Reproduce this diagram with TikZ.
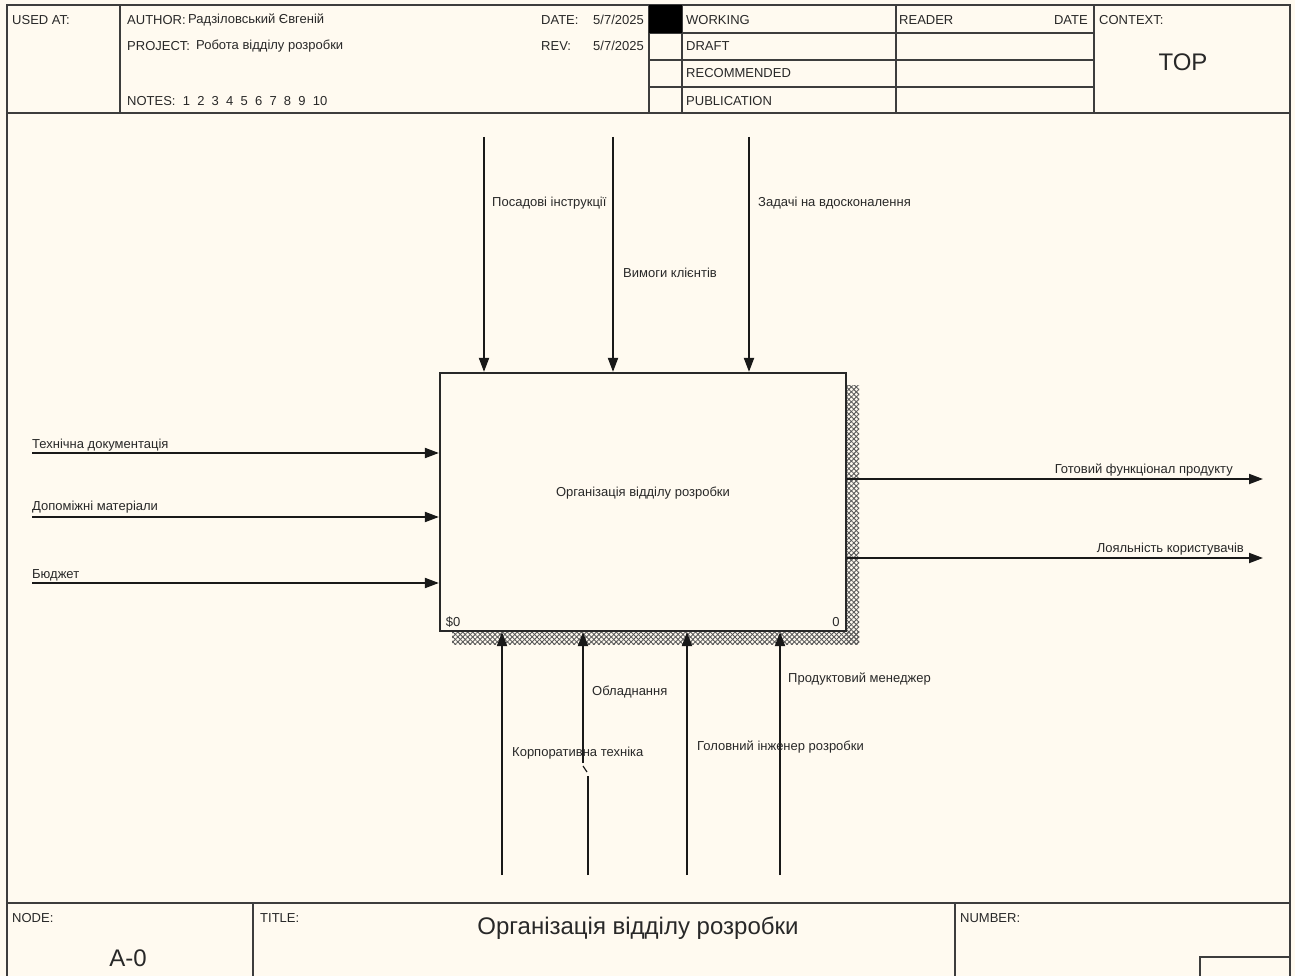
\documentclass[tikz,border=0pt]{standalone}
\usepackage{fontspec}
\setmainfont{Liberation Sans}
\usetikzlibrary{arrows.meta,patterns.meta}
\definecolor{paper}{RGB}{255,250,240}
\definecolor{ink}{RGB}{40,40,40}
\begin{document}
\begin{tikzpicture}[x=1pt,y=-1pt,
  rule/.style={draw=ink!90, line width=1.6pt},
  txt/.style={font=\fontsize{13}{15}\selectfont, inner sep=0pt, text=ink},
  big/.style={font=\fontsize{24}{28}\selectfont, inner sep=0pt, text=ink},
  flow/.style={draw=black!90, line width=1.9pt, -{Triangle[length=14pt,width=10pt]}},
  plain/.style={draw=black!90, line width=1.9pt},
  lbl/.style={txt, anchor=west},
  hatch/.style={pattern={Lines[angle=45,distance=3.5pt,line width=0.9pt]}, pattern color=gray!70!black},
  hatchb/.style={pattern={Lines[angle=-45,distance=3.5pt,line width=0.9pt]}, pattern color=gray!70!black},
  ]
\clip (0,0) rectangle (1295,976);
\fill[paper] (0,0) rectangle (1295,976);

% ---------- sheet frame ----------
\draw[rule] (7,990) -- (7,5) -- (1290,5) -- (1290,990);
% header
\draw[rule] (7,113) -- (1290,113);
\draw[rule] (120,5) -- (120,113);
\draw[rule] (649,5) -- (649,113);
\draw[rule] (682,5) -- (682,113);
\draw[rule] (896,5) -- (896,113);
\draw[rule] (1094,5) -- (1094,113);
\foreach \yy in {33,60,87} \draw[rule] (649,\yy) -- (1094,\yy);
\fill[black] (649,5) rectangle (682,33);

\node[lbl] (usedat) at (12,20) {USED AT:};
\node[lbl] (author) at (127,20) {AUTHOR:};
\node[lbl] (authorv) at (188,20) {Радзіловський Євгеній};
\node[lbl] (project) at (127,46) {PROJECT:};
\node[lbl] (projectv) at (196,46) {Робота відділу розробки};
\node[lbl] (notes) at (127,101) {NOTES:\ \ 1\ \ 2\ \ 3\ \ 4\ \ 5\ \ 6\ \ 7\ \ 8\ \ 9\ \ 10};
\node[lbl] (date) at (541,20) {DATE:};
\node[lbl] (datev) at (593,20) {5/7/2025};
\node[lbl] (rev) at (541,46) {REV:};
\node[lbl] (revv) at (593,46) {5/7/2025};
\node[lbl] (working) at (686,20) {WORKING};
\node[lbl] (draft) at (686,46) {DRAFT};
\node[lbl] (recommended) at (686,73) {RECOMMENDED};
\node[lbl] (publication) at (686,101) {PUBLICATION};
\node[lbl] (reader) at (899,20) {READER};
\node[txt, anchor=east] (rdate) at (1088,20) {DATE};
\node[lbl] (context) at (1099,20) {CONTEXT:};
\node[big] (top) at (1183,62) {TOP};

% footer
\draw[rule] (7,903) -- (1290,903);
\draw[rule] (253,903) -- (253,990);
\draw[rule] (955,903) -- (955,990);
\draw[rule] (1200,990) -- (1200,957) -- (1290,957);
\node[lbl] (nodelbl) at (12,918) {NODE:};
\node[big] (nodeno) at (128,958) {A-0};
\node[lbl] (titlelbl) at (260,918) {TITLE:};
\node[big] (title) at (638,928) {Організація відділу розробки};
\node[lbl] (numberlbl) at (960,918) {NUMBER:};

% ---------- activity box with hatched shadow ----------
\fill[hatch] (846,385) rectangle (859,644);
\fill[hatch] (452,631) rectangle (859,644);
\fill[hatchb] (846,385) rectangle (859,644);
\fill[hatchb] (452,631) rectangle (859,644);
\node[draw=ink, line width=2.2pt, fill=paper, minimum width=406pt, minimum height=258pt, inner sep=0pt] (fn) at (643,502) {};
\node[txt] (fntext) at (643,493) {Організація відділу розробки};
\node[txt] (fnid) at (453,622) {\$0};
\node[txt] (fnno) at (836,622) {0};

% ---------- controls ----------
\coordinate (c1) at (484,137);
\coordinate (c2) at (613,137);
\coordinate (c3) at (749,137);
\draw[flow] (c1) -- (c1 |- fn.north);
\draw[flow] (c2) -- (c2 |- fn.north);
\draw[flow] (c3) -- (c3 |- fn.north);
\node[lbl] (c1t) at (492,203) {Посадові інструкції};
\node[lbl] (c2t) at (623,273) {Вимоги клієнтів};
\node[lbl] (c3t) at (758,203) {Задачі на вдосконалення};

% ---------- inputs ----------
\coordinate (i1) at (32,453);
\coordinate (i2) at (32,517);
\coordinate (i3) at (32,583);
\draw[flow] (i1) -- (i1 -| fn.west);
\draw[flow] (i2) -- (i2 -| fn.west);
\draw[flow] (i3) -- (i3 -| fn.west);
\node[lbl] (i1t) at (32,445) {Технічна документація};
\node[lbl] (i2t) at (32,507) {Допоміжні матеріали};
\node[lbl] (i3t) at (32,575) {Бюджет};

% ---------- outputs ----------
\coordinate (o1) at (1263,479);
\coordinate (o2) at (1263,558);
\draw[flow] (o1 -| fn.east) -- (o1);
\draw[flow] (o2 -| fn.east) -- (o2);
\node[txt, anchor=east] (o1t) at (1233,470) {Готовий функціонал продукту};
\node[txt, anchor=east] (o2t) at (1244,549) {Лояльність користувачів};

% ---------- mechanisms ----------
\coordinate (m1) at (502,875);
\coordinate (m2) at (583,763);
\coordinate (m2b) at (588,875);
\coordinate (m3) at (687,875);
\coordinate (m4) at (780,875);
\draw[flow] (m1) -- (m1 |- fn.south);
\draw[flow] (m2) -- (m2 |- fn.south);
\draw[line width=1.2pt, black!90] (583,766) -- (587,772);
\draw[plain] (m2b) -- (588,776);
\draw[flow] (m3) -- (m3 |- fn.south);
\draw[flow] (m4) -- (m4 |- fn.south);
\node[lbl] (m2t) at (592,692) {Обладнання};
\node[lbl] (m1t) at (512,753) {Корпоративна техніка};
\node[lbl] (m3t) at (697,747) {Головний інженер розробки};
\node[lbl] (m4t) at (788,679) {Продуктовий менеджер};
\end{tikzpicture}
\end{document}
